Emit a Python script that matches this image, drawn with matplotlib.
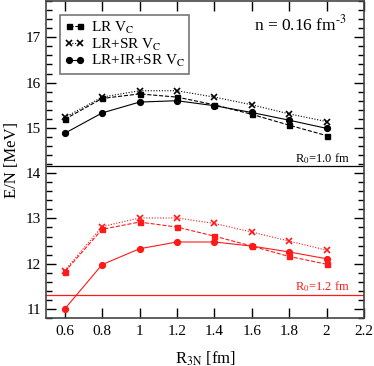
import matplotlib
matplotlib.use('Agg')
import matplotlib.pyplot as plt
from matplotlib.ticker import MultipleLocator

plt.rcParams['font.family'] = ['Liberation Serif', 'DejaVu Serif']
plt.rcParams['mathtext.fontset'] = 'stix'

r3n = [0.6, 0.8, 1.0, 1.2, 1.4, 1.6, 1.8, 2.0]

# R0 = 1.0 fm (black)
lr_10 = [15.19, 15.65, 15.75, 15.68, 15.51, 15.30, 15.06, 14.83]
lrsr_10 = [15.23, 15.68, 15.82, 15.82, 15.68, 15.51, 15.31, 15.14]
lrirsr_10 = [14.88, 15.33, 15.57, 15.60, 15.49, 15.34, 15.17, 14.99]

# R0 = 1.2 fm (red)
lr_12 = [11.82, 12.76, 12.92, 12.81, 12.61, 12.39, 12.16, 11.99]
lrsr_12 = [11.85, 12.82, 13.01, 13.01, 12.89, 12.70, 12.50, 12.30]
lrirsr_12 = [11.00, 11.98, 12.33, 12.48, 12.48, 12.39, 12.26, 12.11]

sep_black = 14.15
sep_red = 11.32

fig = plt.figure(figsize=(3.74, 3.66), dpi=100)
ax = fig.add_axes([0.123, 0.131, 0.850, 0.866])

dot = (0, (1, 1.5))
ms_sq, ms_x, ms_o = 3.6, 3.8, 4.2
ax.plot(r3n, lr_10, 's--', color='black', ms=ms_sq, lw=0.8, label='LR V$_\\mathrm{C}$')
ax.plot(r3n, lrsr_10, 'x', ls=dot, color='black', ms=ms_x, mew=1.2, lw=0.8, label='LR+SR V$_\\mathrm{C}$')
ax.plot(r3n, lrirsr_10, 'o-', color='black', ms=ms_o, lw=0.8, label='LR+IR+SR V$_\\mathrm{C}$')

red = '#ff1a1a'
ax.plot(r3n, lr_12, 's--', color=red, ms=ms_sq, lw=0.8)
ax.plot(r3n, lrsr_12, 'x', ls=dot, color=red, ms=ms_x, mew=1.2, lw=0.8)
ax.plot(r3n, lrirsr_12, 'o-', color=red, ms=ms_o, lw=0.8)

ax.axhline(sep_black, color='black', lw=0.9)
ax.axhline(sep_red, color=red, lw=0.9)

ax.set_xlim(0.5, 2.2)
ax.set_ylim(10.8, 17.8)
ax.set_xticks([0.6, 0.8, 1.0, 1.2, 1.4, 1.6, 1.8, 2.0, 2.2])
ax.set_xticklabels(['0.6', '0.8', '1', '1.2', '1.4', '1.6', '1.8', '2', '2.2'])
ax.set_yticks([11, 12, 13, 14, 15, 16, 17])
ax.yaxis.set_minor_locator(MultipleLocator(0.2))
ax.tick_params(which='both', direction='in', top=True, right=True, labelsize=11)
ax.tick_params(which='major', length=7, width=1)
ax.tick_params(which='minor', length=4, width=1)
ax.tick_params(axis='x', pad=5)
for s in ax.spines.values():
    s.set_color('#444444')
    s.set_linewidth(1.2)

ax.set_xlabel('R$_\\mathrm{3N}$ [fm]', fontsize=12, labelpad=8)
ax.set_ylabel('E/N [MeV]', fontsize=12, labelpad=4)

ax.text(0.947, 0.925, 'n = 0.16 fm$^{\\mathrm{\u2010}3}$', transform=ax.transAxes, ha='right', va='center',
        fontsize=12.5)
ax.text(0.955, 14.32, 'R$_0$=1.0 fm', ha='right', va='center', fontsize=9,
        transform=ax.get_yaxis_transform())
ax.text(0.955, 11.5, 'R$_0$=1.2 fm', ha='right', va='center', fontsize=9, color=red,
        transform=ax.get_yaxis_transform())

leg = ax.legend(loc='upper left', bbox_to_anchor=(0.044, 0.956), fontsize=11, numpoints=2,
                handlelength=1.3, handletextpad=0.4, labelspacing=0.05, borderpad=0.3,
                borderaxespad=0, fancybox=False, framealpha=1, edgecolor='#777777')
leg.get_frame().set_linewidth(1.2)

fig.savefig('out.png', dpi=100)
